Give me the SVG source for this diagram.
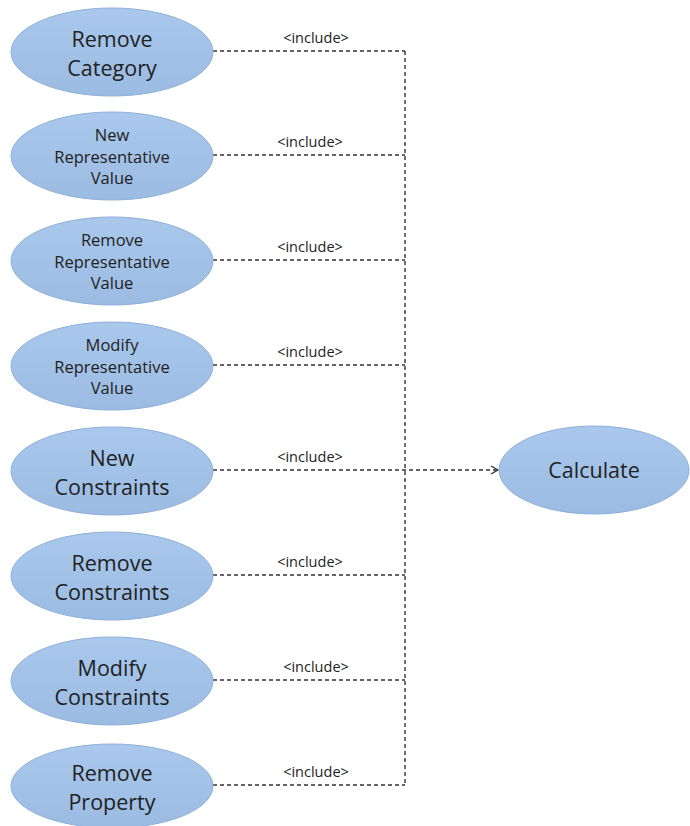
<svg xmlns="http://www.w3.org/2000/svg" width="690" height="826" viewBox="0 0 690 826">
<defs>
<linearGradient id="g" x1="0" y1="0" x2="0" y2="1">
<stop offset="0" stop-color="#a9c8ec"/>
<stop offset="1" stop-color="#9bbbe2"/>
</linearGradient>
<marker id="arr" markerWidth="12" markerHeight="12" refX="10" refY="6" orient="auto" markerUnits="userSpaceOnUse">
<path d="M3,2 L10,6 L3,10" fill="none" stroke="#333" stroke-width="1.3"/>
</marker>
</defs>
<style>
.uc{fill:url(#g);stroke:#8eb0da;stroke-width:1}
.big{font-family:"Open Sans","Noto Sans",sans-serif;font-size:21.5px;fill:#222;text-anchor:middle}
.sm{font-family:"Open Sans","Noto Sans",sans-serif;font-size:16.5px;fill:#222;text-anchor:middle}
.lbl{font-family:"Open Sans","Noto Sans",sans-serif;font-size:14.5px;fill:#222;text-anchor:middle}
.c{fill:none;stroke:#333;stroke-width:1.4;stroke-dasharray:4 3}
</style>
<g id="connectors">
<path class="c" d="M213,51 H405"/>
<path class="c" d="M213,155 H405"/>
<path class="c" d="M213,260 H405"/>
<path class="c" d="M213,365 H405"/>
<path class="c" d="M213,575 H405"/>
<path class="c" d="M213,680 H405"/>
<path class="c" d="M213,785 H405"/>
<path class="c" d="M405,51 V785"/>
<path class="c" d="M213,470 H498" marker-end="url(#arr)"/>
<text class="lbl" x="316" y="43">&lt;include&gt;</text>
<text class="lbl" x="310" y="147">&lt;include&gt;</text>
<text class="lbl" x="310" y="252">&lt;include&gt;</text>
<text class="lbl" x="310" y="357">&lt;include&gt;</text>
<text class="lbl" x="310" y="462">&lt;include&gt;</text>
<text class="lbl" x="310" y="567">&lt;include&gt;</text>
<text class="lbl" x="316" y="672">&lt;include&gt;</text>
<text class="lbl" x="316" y="777">&lt;include&gt;</text>
</g>
<g id="removeCategory">
<ellipse class="uc" cx="112" cy="52" rx="101" ry="44"/>
<text class="big" x="112" y="47">Remove</text>
<text class="big" x="112" y="76">Category</text>
</g>
<g id="newRepValue">
<ellipse class="uc" cx="112" cy="156" rx="101" ry="44"/>
<text class="sm" x="112" y="141">New</text>
<text class="sm" x="112" y="163">Representative</text>
<text class="sm" x="112" y="184">Value</text>
</g>
<g id="removeRepValue">
<ellipse class="uc" cx="112" cy="261" rx="101" ry="44"/>
<text class="sm" x="112" y="246">Remove</text>
<text class="sm" x="112" y="268">Representative</text>
<text class="sm" x="112" y="289">Value</text>
</g>
<g id="modifyRepValue">
<ellipse class="uc" cx="112" cy="366" rx="101" ry="44"/>
<text class="sm" x="112" y="351">Modify</text>
<text class="sm" x="112" y="373">Representative</text>
<text class="sm" x="112" y="394">Value</text>
</g>
<g id="newConstraints">
<ellipse class="uc" cx="112" cy="471" rx="101" ry="44"/>
<text class="big" x="112" y="466">New</text>
<text class="big" x="112" y="495">Constraints</text>
</g>
<g id="removeConstraints">
<ellipse class="uc" cx="112" cy="576" rx="101" ry="44"/>
<text class="big" x="112" y="571">Remove</text>
<text class="big" x="112" y="600">Constraints</text>
</g>
<g id="modifyConstraints">
<ellipse class="uc" cx="112" cy="681" rx="101" ry="44"/>
<text class="big" x="112" y="676">Modify</text>
<text class="big" x="112" y="705">Constraints</text>
</g>
<g id="removeProperty">
<ellipse class="uc" cx="112" cy="786" rx="101" ry="42"/>
<text class="big" x="112" y="781">Remove</text>
<text class="big" x="112" y="810">Property</text>
</g>
<g id="calculate">
<ellipse class="uc" cx="594" cy="470" rx="95" ry="44"/>
<text class="big" x="594" y="478">Calculate</text>
</g>
</svg>
